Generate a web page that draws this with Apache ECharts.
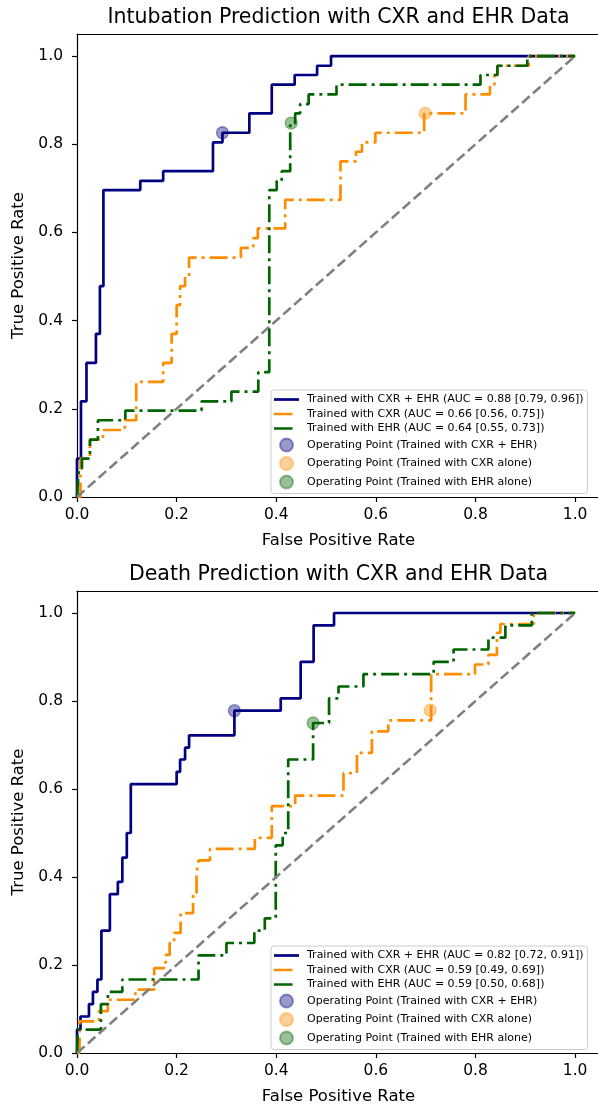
<!DOCTYPE html>
<html>
<head>
<meta charset="utf-8">
<script src="https://cdn.jsdelivr.net/npm/echarts@6/dist/echarts.min.js"></script>
<style>
  html, body { margin: 0; padding: 0; background: #fff; overflow: hidden; }
  #chart { width: 598px; height: 1109px; }
</style>
</head>
<body>
<div id="chart"></div>
<script>
// ---------- tick labels ----------
const xTicks = [0, 0.2, 0.4, 0.6, 0.8, 1.0];
const yTicks = [0, 0.2, 0.4, 0.6, 0.8, 1.0];

// ---------- titles / labels ----------
const titleTop = 'Intubation Prediction with CXR and EHR Data';
const titleBottom = 'Death Prediction with CXR and EHR Data';
const xName = 'False Positive Rate';
const yName = 'True Positive Rate';

// ---------- Intubation (top) ----------
const intubNames = [
  'Trained with CXR + EHR (AUC = 0.88 [0.79, 0.96])',
  'Trained with CXR (AUC = 0.66 [0.56, 0.75])',
  'Trained with EHR (AUC = 0.64 [0.55, 0.73])'
];
const intubFprBoth = [0,0,0.008,0.008,0.019,0.019,0.038,0.038,0.046,0.046,0.053,0.053,0.127,0.127,0.173,0.173,0.273,0.273,0.292,0.292,0.346,0.346,0.391,0.391,0.437,0.437,0.482,0.482,0.51,0.51,1.0];
const intubTprBoth = [0,0.087,0.087,0.217,0.217,0.304,0.304,0.370,0.370,0.478,0.478,0.696,0.696,0.717,0.717,0.739,0.739,0.804,0.804,0.826,0.826,0.870,0.870,0.935,0.935,0.957,0.957,0.978,0.978,1.0,1.0];
const intubFprCxr = [0,0.007,0.007,0.026,0.026,0.052,0.052,0.096,0.096,0.119,0.119,0.173,0.173,0.19,0.19,0.2,0.2,0.207,0.207,0.217,0.217,0.225,0.225,0.329,0.329,0.354,0.354,0.363,0.363,0.418,0.418,0.529,0.529,0.560,0.560,0.572,0.572,0.599,0.599,0.697,0.697,0.780,0.780,0.829,0.829,0.838,0.838,0.844,0.844,0.907,0.907,1.0];
const intubTprCxr = [0,0,0.087,0.087,0.130,0.130,0.152,0.152,0.174,0.174,0.261,0.261,0.304,0.304,0.370,0.370,0.435,0.435,0.478,0.478,0.5,0.5,0.543,0.543,0.565,0.565,0.587,0.587,0.609,0.609,0.674,0.674,0.761,0.761,0.783,0.783,0.804,0.804,0.826,0.826,0.870,0.870,0.913,0.913,0.935,0.935,0.957,0.957,0.978,0.978,1.0,1.0];
const intubFprEhr = [0,0.004,0.004,0.010,0.010,0.026,0.026,0.042,0.042,0.097,0.097,0.25,0.25,0.31,0.31,0.364,0.364,0.386,0.386,0.401,0.401,0.411,0.411,0.428,0.428,0.438,0.438,0.448,0.448,0.465,0.465,0.521,0.521,0.81,0.81,0.844,0.844,0.904,0.904,1.0];
const intubTprEhr = [0,0,0.065,0.065,0.087,0.087,0.130,0.130,0.174,0.174,0.196,0.196,0.217,0.217,0.239,0.239,0.283,0.283,0.696,0.696,0.717,0.717,0.739,0.739,0.848,0.848,0.870,0.870,0.891,0.891,0.913,0.913,0.935,0.935,0.957,0.957,0.978,0.978,1.0,1.0];
const intubOpBoth = [0.292, 0.826];
const intubOpCxr = [0.699, 0.870];
const intubOpEhr = [0.430, 0.848];

// ---------- Death (bottom) ----------
const deathNames = [
  'Trained with CXR + EHR (AUC = 0.82 [0.72, 0.91])',
  'Trained with CXR (AUC = 0.59 [0.49, 0.69])',
  'Trained with EHR (AUC = 0.59 [0.50, 0.68])'
];
const deathFprBoth = [0,0,0.007,0.007,0.024,0.024,0.032,0.032,0.041,0.041,0.049,0.049,0.066,0.066,0.082,0.082,0.091,0.091,0.1,0.1,0.108,0.108,0.2,0.2,0.207,0.207,0.217,0.217,0.225,0.225,0.316,0.316,0.409,0.409,0.449,0.449,0.475,0.475,0.516,0.516,1.0];
const deathTprBoth = [0,0.053,0.053,0.083,0.083,0.111,0.111,0.139,0.139,0.167,0.167,0.278,0.278,0.361,0.361,0.389,0.389,0.444,0.444,0.5,0.5,0.611,0.611,0.639,0.639,0.667,0.667,0.694,0.694,0.722,0.722,0.778,0.778,0.806,0.806,0.889,0.889,0.972,0.972,1.0,1.0];
const deathFprCxr = [0,0.005,0.005,0.044,0.044,0.062,0.062,0.117,0.117,0.155,0.155,0.178,0.178,0.186,0.186,0.195,0.195,0.208,0.208,0.233,0.233,0.240,0.240,0.244,0.244,0.267,0.267,0.357,0.357,0.391,0.391,0.438,0.438,0.535,0.535,0.562,0.562,0.592,0.592,0.625,0.625,0.711,0.711,0.799,0.799,0.826,0.826,0.843,0.843,0.85,0.85,0.917,0.917,1.0];
const deathTprCxr = [0,0,0.072,0.072,0.095,0.095,0.121,0.121,0.144,0.144,0.193,0.193,0.223,0.223,0.25,0.25,0.273,0.273,0.318,0.318,0.364,0.364,0.409,0.409,0.438,0.438,0.464,0.464,0.489,0.489,0.561,0.561,0.585,0.585,0.636,0.636,0.682,0.682,0.731,0.731,0.756,0.756,0.861,0.861,0.883,0.883,0.905,0.905,0.955,0.955,0.975,0.975,1.0,1.0];
const deathFprEhr = [0,0.002,0.002,0.048,0.048,0.062,0.062,0.091,0.091,0.244,0.244,0.300,0.300,0.356,0.356,0.377,0.377,0.399,0.399,0.413,0.413,0.424,0.424,0.474,0.474,0.506,0.506,0.525,0.525,0.575,0.575,0.716,0.716,0.756,0.756,0.826,0.826,0.860,0.860,0.913,0.913,1.0];
const deathTprEhr = [0,0,0.053,0.053,0.111,0.111,0.139,0.139,0.167,0.167,0.222,0.222,0.25,0.25,0.278,0.278,0.306,0.306,0.472,0.472,0.5,0.5,0.667,0.667,0.75,0.75,0.806,0.806,0.833,0.833,0.861,0.861,0.889,0.889,0.917,0.917,0.944,0.944,0.972,0.972,1.0,1.0];
const deathOpBoth = [0.316, 0.778];
const deathOpCxr = [0.709, 0.779];
const deathOpEhr = [0.474, 0.75];

const opNames = [
  'Operating Point (Trained with CXR + EHR)',
  'Operating Point (Trained with CXR alone)',
  'Operating Point (Trained with EHR alone)'
];
const chance = [0, 1];

// ---------- styles ----------
const FONT = 'DejaVu Sans';
const NAVY = '#000080', ORANGE = '#ff8c00', GREEN = '#006400';
const LW = 2.7;
const DASHDOT = [18, 5, 3, 5];
const X_MAX = 1.064;   // axis runs past the right edge of the picture

function zip(a, b) { return a.map((v, i) => [v, b[i]]); }

const grids = [
  { left: 77, top: 34, width: 530, height: 463 },
  { left: 77, top: 591, width: 530, height: 462 }
];

function makeXAxis(i) {
  return {
    type: 'value', gridIndex: i, min: 0, max: X_MAX,
    name: xName, nameLocation: 'middle', nameGap: 35,
    nameTextStyle: { fontFamily: FONT, fontSize: 16.5, color: '#000', padding: [0, 7, 0, 0] },
    axisLine: { show: true, onZero: false, lineStyle: { color: '#000', width: 1.2 } },
    axisTick: { show: true, length: 5, lineStyle: { color: '#000', width: 1.2 }, customValues: xTicks },
    axisLabel: { customValues: xTicks, formatter: v => v.toFixed(1), fontFamily: FONT, fontSize: 15.5, color: '#000', margin: 10 },
    splitLine: { show: false }
  };
}
function makeTopSpine(i) {
  return {
    type: 'value', gridIndex: i, min: 0, max: X_MAX, position: 'top',
    axisLine: { show: true, onZero: false, lineStyle: { color: '#000', width: 1.2 } },
    axisTick: { show: false }, axisLabel: { show: false }, splitLine: { show: false }
  };
}
function makeYAxis(i) {
  return {
    type: 'value', gridIndex: i, min: 0, max: 1.05,
    name: yName, nameLocation: 'middle', nameGap: 44,
    nameTextStyle: { fontFamily: FONT, fontSize: 16.5, color: '#000' },
    axisLine: { show: true, onZero: false, lineStyle: { color: '#000', width: 1.2 } },
    axisTick: { show: true, length: 5, lineStyle: { color: '#000', width: 1.2 }, customValues: yTicks },
    axisLabel: { customValues: yTicks, formatter: v => v.toFixed(1), fontFamily: FONT, fontSize: 15.5, color: '#000', margin: 14 },
    splitLine: { show: false }
  };
}

function lineSeries(name, fpr, tpr, color, dash, gi) {
  return {
    type: 'line', name, xAxisIndex: gi, yAxisIndex: gi,
    data: zip(fpr, tpr), symbol: 'none', showSymbol: false,
    lineStyle: { color, width: LW, type: dash, cap: 'butt' },
    itemStyle: { color }, z: 3, silent: true
  };
}
function opSeries(name, pt, rgb, gi) {
  return {
    type: 'scatter', name, xAxisIndex: gi, yAxisIndex: gi,
    data: [pt], symbol: 'circle', symbolSize: 12,
    itemStyle: { color: 'rgba(' + rgb + ',0.5)', borderColor: 'rgba(' + rgb + ',0.5)', borderWidth: 1.3 },
    z: 5, silent: true
  };
}
function chanceSeries(gi) {
  return {
    type: 'line', name: '_chance' + gi, xAxisIndex: gi, yAxisIndex: gi,
    data: zip(chance, chance), symbol: 'none',
    lineStyle: { color: '#808080', width: 2.6, type: [10, 4.5], cap: 'butt' },
    z: 4, silent: true
  };
}

const series = [
  lineSeries(intubNames[0], intubFprBoth, intubTprBoth, NAVY, 'solid', 0),
  lineSeries(intubNames[1], intubFprCxr, intubTprCxr, ORANGE, DASHDOT, 0),
  lineSeries(intubNames[2], intubFprEhr, intubTprEhr, GREEN, DASHDOT, 0),
  chanceSeries(0),
  opSeries(opNames[0], intubOpBoth, '0,0,128', 0),
  opSeries(opNames[1], intubOpCxr, '255,140,0', 0),
  opSeries(opNames[2], intubOpEhr, '0,100,0', 0),
  lineSeries(deathNames[0], deathFprBoth, deathTprBoth, NAVY, 'solid', 1),
  lineSeries(deathNames[1], deathFprCxr, deathTprCxr, ORANGE, DASHDOT, 1),
  lineSeries(deathNames[2], deathFprEhr, deathTprEhr, GREEN, DASHDOT, 1),
  chanceSeries(1),
  opSeries(opNames[0], deathOpBoth, '0,0,128', 1),
  opSeries(opNames[1], deathOpCxr, '255,140,0', 1),
  opSeries(opNames[2], deathOpEhr, '0,100,0', 1)
];

const ICON_SOLID = 'path://M0,0L25,0L25,2.7L0,2.7Z';
const ICON_DASH = 'path://M0,0L18.5,0L18.5,2.7L0,2.7Z M25,0L25,2.7';

function makeLegend(names, top) {
  return {
    orient: 'vertical', left: 271, top,
    itemWidth: 25, itemHeight: 13, itemGap: 3.5,
    padding: [4, 4, 4, 3],
    backgroundColor: 'rgba(255,255,255,0.8)',
    borderColor: '#cccccc', borderWidth: 1, borderRadius: 3,
    selectedMode: false,
    textStyle: { fontFamily: FONT, fontSize: 11, color: '#000', padding: [0, 0, 0, 3] },
    data: [
      { name: names[0], icon: ICON_SOLID, itemStyle: { color: NAVY, borderWidth: 0 } },
      { name: names[1], icon: ICON_DASH, itemStyle: { color: ORANGE, borderWidth: 0 } },
      { name: names[2], icon: ICON_DASH, itemStyle: { color: GREEN, borderWidth: 0 } },
      { name: opNames[0], icon: 'circle' },
      { name: opNames[1], icon: 'circle' },
      { name: opNames[2], icon: 'circle' }
    ]
  };
}

const option = {
  animation: false,
  backgroundColor: '#fff',
  grid: grids.map(g => Object.assign({ show: false, containLabel: false, outerBoundsMode: 'none' }, g)),
  xAxis: [makeXAxis(0), makeXAxis(1), makeTopSpine(0), makeTopSpine(1)],
  yAxis: [makeYAxis(0), makeYAxis(1)],
  legend: [makeLegend(intubNames, 390), makeLegend(deathNames, 946)],
  graphic: [
    { type: 'text', x: 338.5, y: 18, style: { text: titleTop, font: '20.5px "DejaVu Sans"', fill: '#000', align: 'center', verticalAlign: 'middle' } },
    { type: 'text', x: 338.5, y: 575, style: { text: titleBottom, font: '20.5px "DejaVu Sans"', fill: '#000', align: 'center', verticalAlign: 'middle' } }
  ],
  series
};

const chart = echarts.init(document.getElementById('chart'), null, { renderer: 'canvas' });
chart.setOption(option);
</script>
</body>
</html>
